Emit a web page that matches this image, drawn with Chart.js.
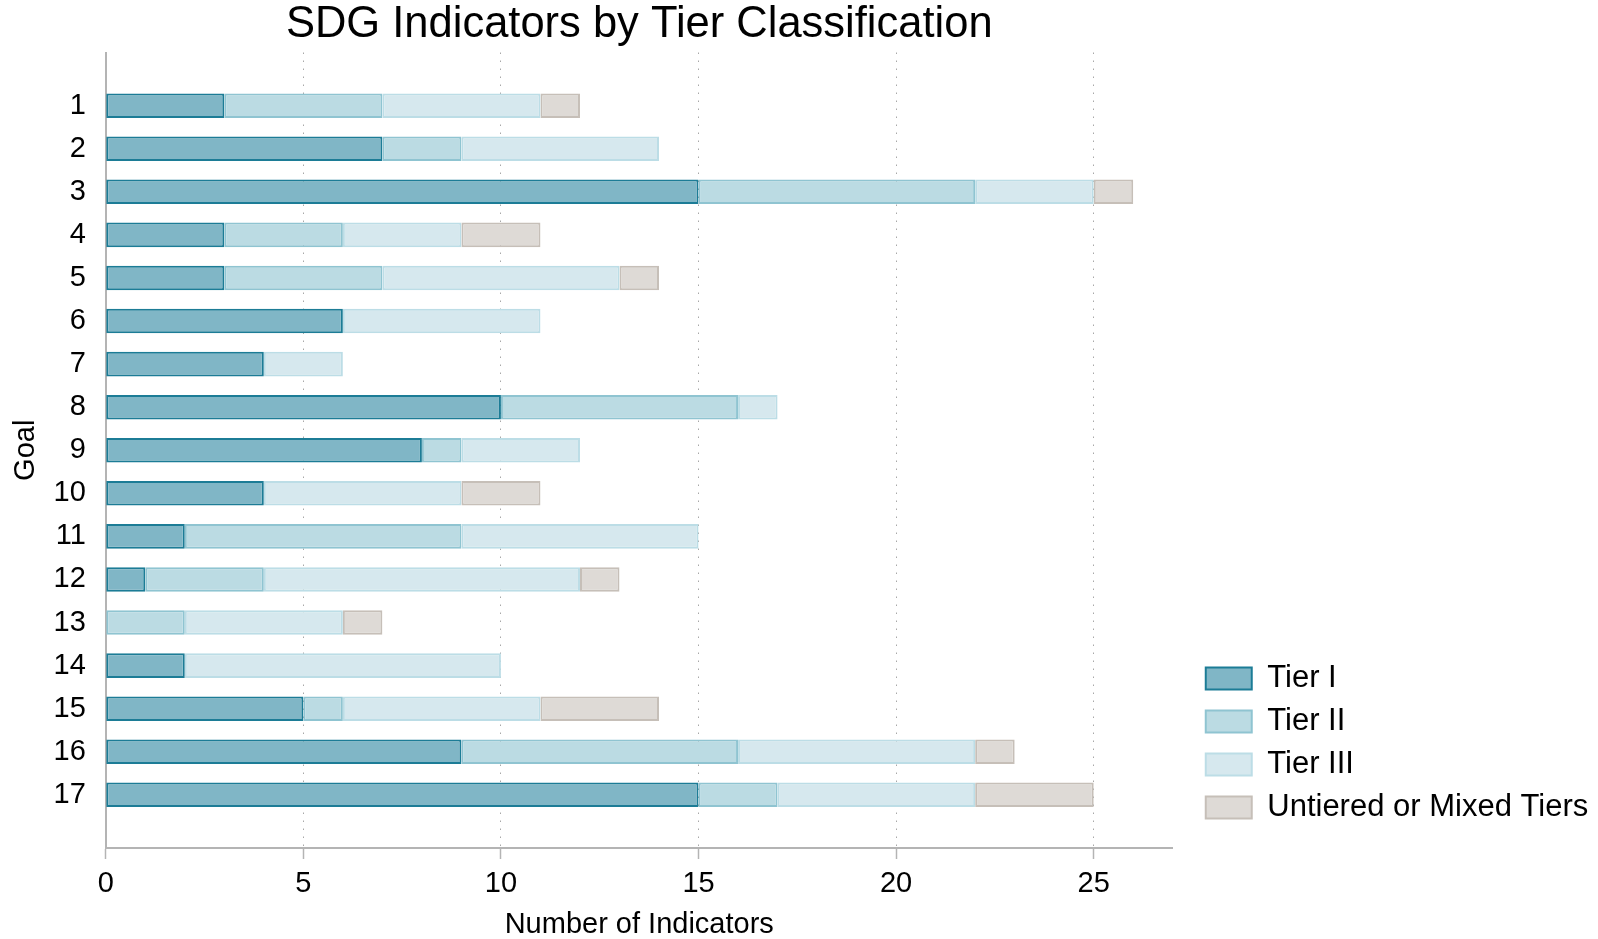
<!DOCTYPE html>
<html>
<head>
<meta charset="utf-8">
<script src="https://cdn.jsdelivr.net/npm/chart.js@4.4.1/dist/chart.umd.min.js"></script>
<style>
  html, body { margin: 0; padding: 0; background: #fff; }
  #wrap { width: 1598px; height: 939px; }
</style>
</head>
<body>
<div id="wrap"><canvas id="tierChart" width="1598" height="939"></canvas></div>
<script>
// goals 1..17, counts per tier
const goals = [1, 2, 3, 4, 5, 6, 7, 8, 9, 10, 11, 12, 13, 14, 15, 16, 17];
const tier1 = [3, 7, 15, 3, 3, 6, 4, 10, 8, 4, 2, 1, 0, 2, 5, 9, 15];
const tier2 = [4, 2, 7, 3, 4, 0, 0, 6, 1, 0, 7, 3, 2, 0, 1, 7, 2];
const tier3 = [4, 5, 3, 3, 6, 5, 2, 1, 3, 5, 6, 8, 4, 8, 5, 6, 5];
const untiered = [1, 0, 1, 2, 1, 0, 0, 0, 0, 2, 0, 1, 1, 0, 3, 1, 3];
const xTicks = [0, 5, 10, 15, 20, 25];

const font = 'Liberation Sans, Arial, sans-serif';
Chart.defaults.font.family = font;
Chart.defaults.color = '#000';

function series(vals) {
  return goals.map((g, i) => ({ y: g, x: vals[i] }));
}

function ds(label, vals, fill, line) {
  return {
    label: label,
    data: series(vals),
    backgroundColor: fill,
    borderColor: line,
    borderWidth: 2,
    borderSkipped: false,
    barPercentage: 0.57,
    categoryPercentage: 1
  };
}

// nudge legend down-right to sit like the original (and don't clip its text)
const legendShift = {
  id: 'legendShift',
  afterLayout(chart) {
    const lg = chart.legend;
    lg.left += 21;
    lg.right = chart.width;
    lg.width = lg.right - lg.left;
    lg.bottom -= 13;
  }
};

const ctx = document.getElementById('tierChart').getContext('2d');
new Chart(ctx, {
  type: 'bar',
  data: {
    datasets: [
      ds('Tier I', tier1, '#80b6c6', '#1c7c96'),
      ds('Tier II', tier2, '#bbdbe3', '#8fc4d1'),
      ds('Tier III', tier3, '#d6e8ee', '#bcdde6'),
      ds('Untiered or Mixed Tiers', untiered, '#dedad6', '#c6bfb8')
    ]
  },
  plugins: [legendShift],
  options: {
    indexAxis: 'y',
    responsive: false,
    animation: false,
    layout: { padding: { left: 5, right: 36, top: 0, bottom: 0 } },
    plugins: {
      title: {
        display: true,
        text: 'SDG Indicators by Tier Classification',
        fullSize: false,
        color: '#000',
        font: { size: 43.5, weight: 'normal', lineHeight: 1 },
        padding: { top: 3, bottom: 6 }
      },
      legend: {
        position: 'right',
        align: 'end',
        fullSize: false,
        labels: {
          boxWidth: 46,
          boxHeight: 22,
          padding: 12,
          color: '#000',
          font: { size: 31 }
        }
      },
      tooltip: { enabled: false }
    },
    scales: {
      x: {
        type: 'linear',
        bounds: 'data',
        stacked: true,
        min: 0,
        max: 27,
        afterBuildTicks: (axis) => { axis.ticks = xTicks.map(v => ({ value: v })); },
        grid: {
          color: '#a8a8a8',
          lineWidth: 1,
          drawTicks: true,
          tickLength: 11,
          tickColor: '#b4b4b4',
          tickWidth: 1.5,
          tickBorderDash: []
        },
        border: { display: true, color: '#b4b4b4', width: 2, dash: [1.5, 6.5] },
        ticks: { font: { size: 29, lineHeight: 1 }, padding: 10, color: '#000' },
        title: {
          display: true,
          text: 'Number of Indicators',
          color: '#000',
          font: { size: 29, lineHeight: 1 },
          padding: { top: 2, bottom: 0 }
        }
      },
      y: {
        type: 'linear',
        bounds: 'data',
        offset: false,
        stacked: true,
        reverse: true,
        min: -0.234,
        max: 18.234,
        afterBuildTicks: (axis) => { axis.ticks = goals.map(v => ({ value: v })); },
        grid: { display: false, drawTicks: false },
        border: { display: true, color: '#b4b4b4', width: 2 },
        ticks: { font: { size: 29 }, padding: 20, color: '#000' },
        title: {
          display: true,
          text: 'Goal',
          color: '#000',
          font: { size: 29, lineHeight: 1 },
          padding: { top: 6.5, bottom: -7 }
        }
      }
    }
  }
});
</script>
</body>
</html>
